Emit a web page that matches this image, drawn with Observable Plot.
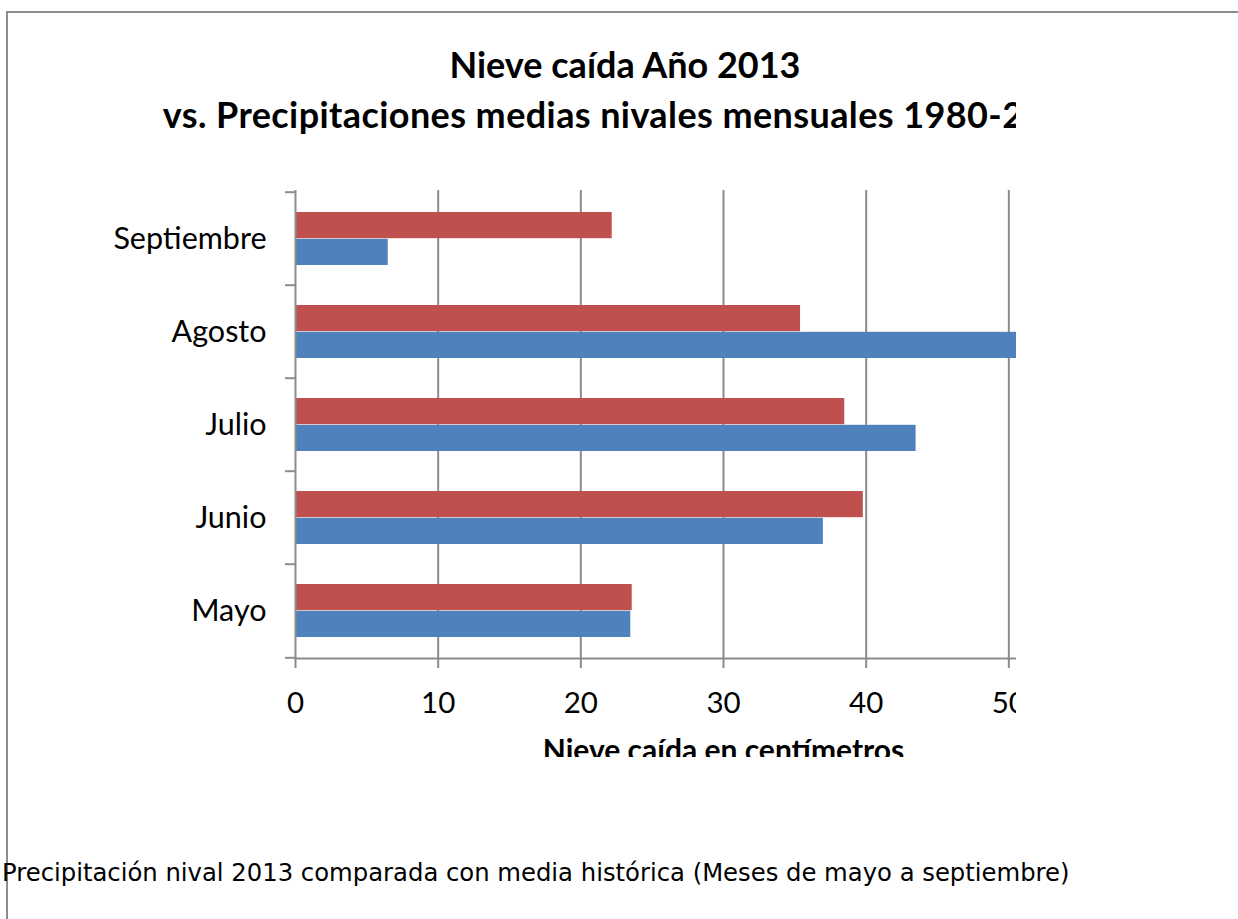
<!DOCTYPE html>
<html>
<head>
<meta charset="utf-8">
<script src="https://cdn.jsdelivr.net/npm/d3@7"></script>
<script src="https://cdn.jsdelivr.net/npm/@observablehq/plot@0.6"></script>
<style>
  html, body { margin: 0; padding: 0; background: #fff; }
  body { width: 1238px; height: 919px; position: relative; overflow: hidden; }
  #frame { position: absolute; left: 6px; top: 11px; width: 1240px; height: 920px;
           border-top: 2px solid #8c8c8c; border-left: 2px solid #8c8c8c; box-sizing: border-box; }
  #clip { position: absolute; left: 0; top: 0; width: 1016px; height: 757px; overflow: hidden; }
  #title { position: absolute; left: 0; top: 0; width: 1250px; text-align: center;
           font-family: Lato, sans-serif; font-weight: bold; font-size: 36px; color: #000; }
  #title div { position: absolute; width: 1250px; white-space: nowrap; }
  #t2 { letter-spacing: 0.4px; }
  #chart { position: absolute; left: 0; top: 0; width: 1240px; }
  #chart svg { font-family: Lato, sans-serif; max-width: none; }
  #chart g[aria-label="x-axis label"] text { font-weight: bold; font-size: 30px; }
  #caption { position: absolute; left: 2px; top: 858px; font-family: "DejaVu Sans", sans-serif;
             font-size: 24.3px; color: #000; white-space: nowrap; }
</style>
</head>
<body>
<div id="frame"></div>
<div id="clip">
  <div id="chart"></div>
  <div id="title">
    <div id="t1" style="top:42px;"></div>
    <div id="t2" style="top:92px;"></div>
  </div>
</div>
<div id="caption"></div>
<script>
const titleLine1 = "Nieve caída Año 2013";
const titleLine2 = "vs. Precipitaciones medias nivales mensuales 1980-2012";
const xLabel = "Nieve caída en centímetros";
const caption = "Precipitación nival 2013 comparada con media histórica (Meses de mayo a septiembre)";

const months = ["Septiembre", "Agosto", "Julio", "Junio", "Mayo"];
const nieve2013 = [6.5, 51, 43.5, 37.0, 23.5];
const mediaHistorica = [22.2, 35.4, 38.5, 39.8, 23.6];
const xTicks = [0, 10, 20, 30, 40, 50, 60];

const blue = "#4f81bd";
const red = "#c0504d";
const gray = "#8c8c8c";

document.getElementById("t1").textContent = titleLine1;
document.getElementById("t2").textContent = titleLine2;
document.getElementById("caption").textContent = caption;

const rows2013 = months.map((m, i) => ({month: m, value: nieve2013[i]}));
const rowsMedia = months.map((m, i) => ({month: m, value: mediaHistorica[i]}));

const marginTop = 190, marginBottom = 110, plotH = 468;
const step = plotH / months.length;
const barH = 26.8;
const off = (step - 2 * barH) / 2;

const chart = Plot.plot({
  width: 1240,
  height: marginTop + plotH + marginBottom,
  marginLeft: 295,
  marginRight: 89,
  marginTop,
  marginBottom,
  style: {fontSize: "26px", color: "#000", background: "transparent", maxWidth: "none"},
  x: {domain: [0, 60], ticks: xTicks},
  y: {domain: months, padding: 0},
  marks: [
    Plot.gridX({ticks: xTicks.filter(d => d > 0), stroke: gray, strokeOpacity: 1, strokeWidth: 2}),
    Plot.barX(rowsMedia, {x: "value", y: "month", fill: red, insetTop: off, insetBottom: step - off - barH}),
    Plot.barX(rows2013, {x: "value", y: "month", fill: blue, insetTop: off + barH, insetBottom: off}),
    Plot.ruleX([0], {stroke: gray, strokeWidth: 2}),
    Plot.frame({anchor: "bottom", stroke: gray, strokeWidth: 2}),
    Plot.axisY({tickSize: 0, tickPadding: 29, label: null, fontSize: 30.5}),
    Plot.axisY({tickSize: 10, tickFormat: () => "", label: null, dy: -step / 2, stroke: gray, strokeWidth: 2}),
    Plot.axisY(["Mayo"], {tickSize: 10, tickFormat: () => "", label: null, dy: step / 2, stroke: gray, strokeWidth: 2}),
    Plot.axisX({ticks: xTicks, tickSize: 10, tickPadding: 24, stroke: gray, strokeWidth: 2,
                label: xLabel, labelAnchor: "center", labelArrow: "none", labelOffset: 102, fontSize: 29.5})
  ]
});
document.getElementById("chart").appendChild(chart);
</script>
</body>
</html>
